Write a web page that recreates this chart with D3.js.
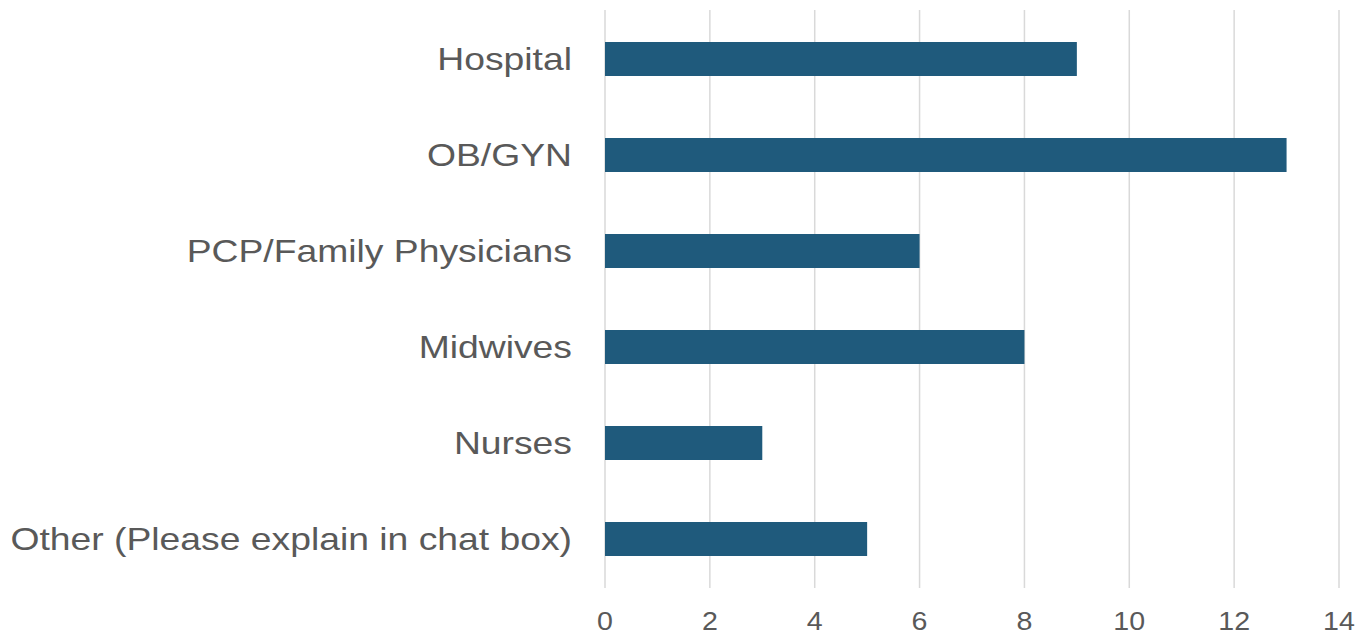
<!DOCTYPE html>
<html>
<head>
<meta charset="utf-8">
<script src="https://cdn.jsdelivr.net/npm/d3@7"></script>
<style>
  body { margin: 0; background: #fff; }
  svg text { font-family: "Liberation Sans", Arial, sans-serif; fill: #595959; }
</style>
</head>
<body>
<div id="chart"></div>
<script>
var categories = ["Hospital", "OB/GYN", "PCP/Family Physicians", "Midwives", "Nurses", "Other (Please explain in chat box)"]
var counts = [9, 13, 6, 8, 3, 5]
var xTicks = [0, 2, 4, 6, 8, 10, 12, 14]

var width = 1358
var height = 636
var plotLeft = 605, plotRight = 1339, plotTop = 11, plotBottom = 587

var svg = d3.select("#chart").append("svg")
    .attr("width", width)
    .attr("height", height)

var x = d3.scaleLinear()
    .domain([0, 14])
    .range([plotLeft, plotRight])

var y = d3.scaleBand()
    .domain(categories)
    .range([plotTop, plotBottom])
    .paddingInner(0.646)
    .paddingOuter(0.323)

// vertical gridlines
svg.selectAll(".grid")
    .data(xTicks)
    .join("line")
    .attr("x1", d => x(d))
    .attr("x2", d => x(d))
    .attr("y1", 10)
    .attr("y2", 588)
    .attr("stroke", "#d9d9d9")
    .attr("stroke-width", 1.5)

// bars
svg.selectAll(".bar")
    .data(categories)
    .join("rect")
    .attr("x", x(0))
    .attr("y", d => y(d))
    .attr("width", (d, i) => x(counts[i]) - x(0))
    .attr("height", y.bandwidth())
    .attr("fill", "#1f5a7c")

// the original text is a bit wider than Liberation Sans, stretch it
function stretch(sel, k) {
    sel.each(function() {
        var w = this.getComputedTextLength()
        d3.select(this).attr("textLength", w * k).attr("lengthAdjust", "spacingAndGlyphs")
    })
}

// category labels
svg.selectAll(".cat")
    .data(categories)
    .join("text")
    .attr("x", 572)
    .attr("y", d => y(d) + y.bandwidth() / 2 + 10.5)
    .attr("text-anchor", "end")
    .style("font-size", "32px")
    .text(d => d)
    .call(stretch, 1.165)

// x tick labels
svg.selectAll(".tick")
    .data(xTicks)
    .join("text")
    .attr("x", d => x(d))
    .attr("y", 630)
    .attr("text-anchor", "middle")
    .style("font-size", "26px")
    .text(d => d)
    .call(stretch, 1.1)
</script>
</body>
</html>
